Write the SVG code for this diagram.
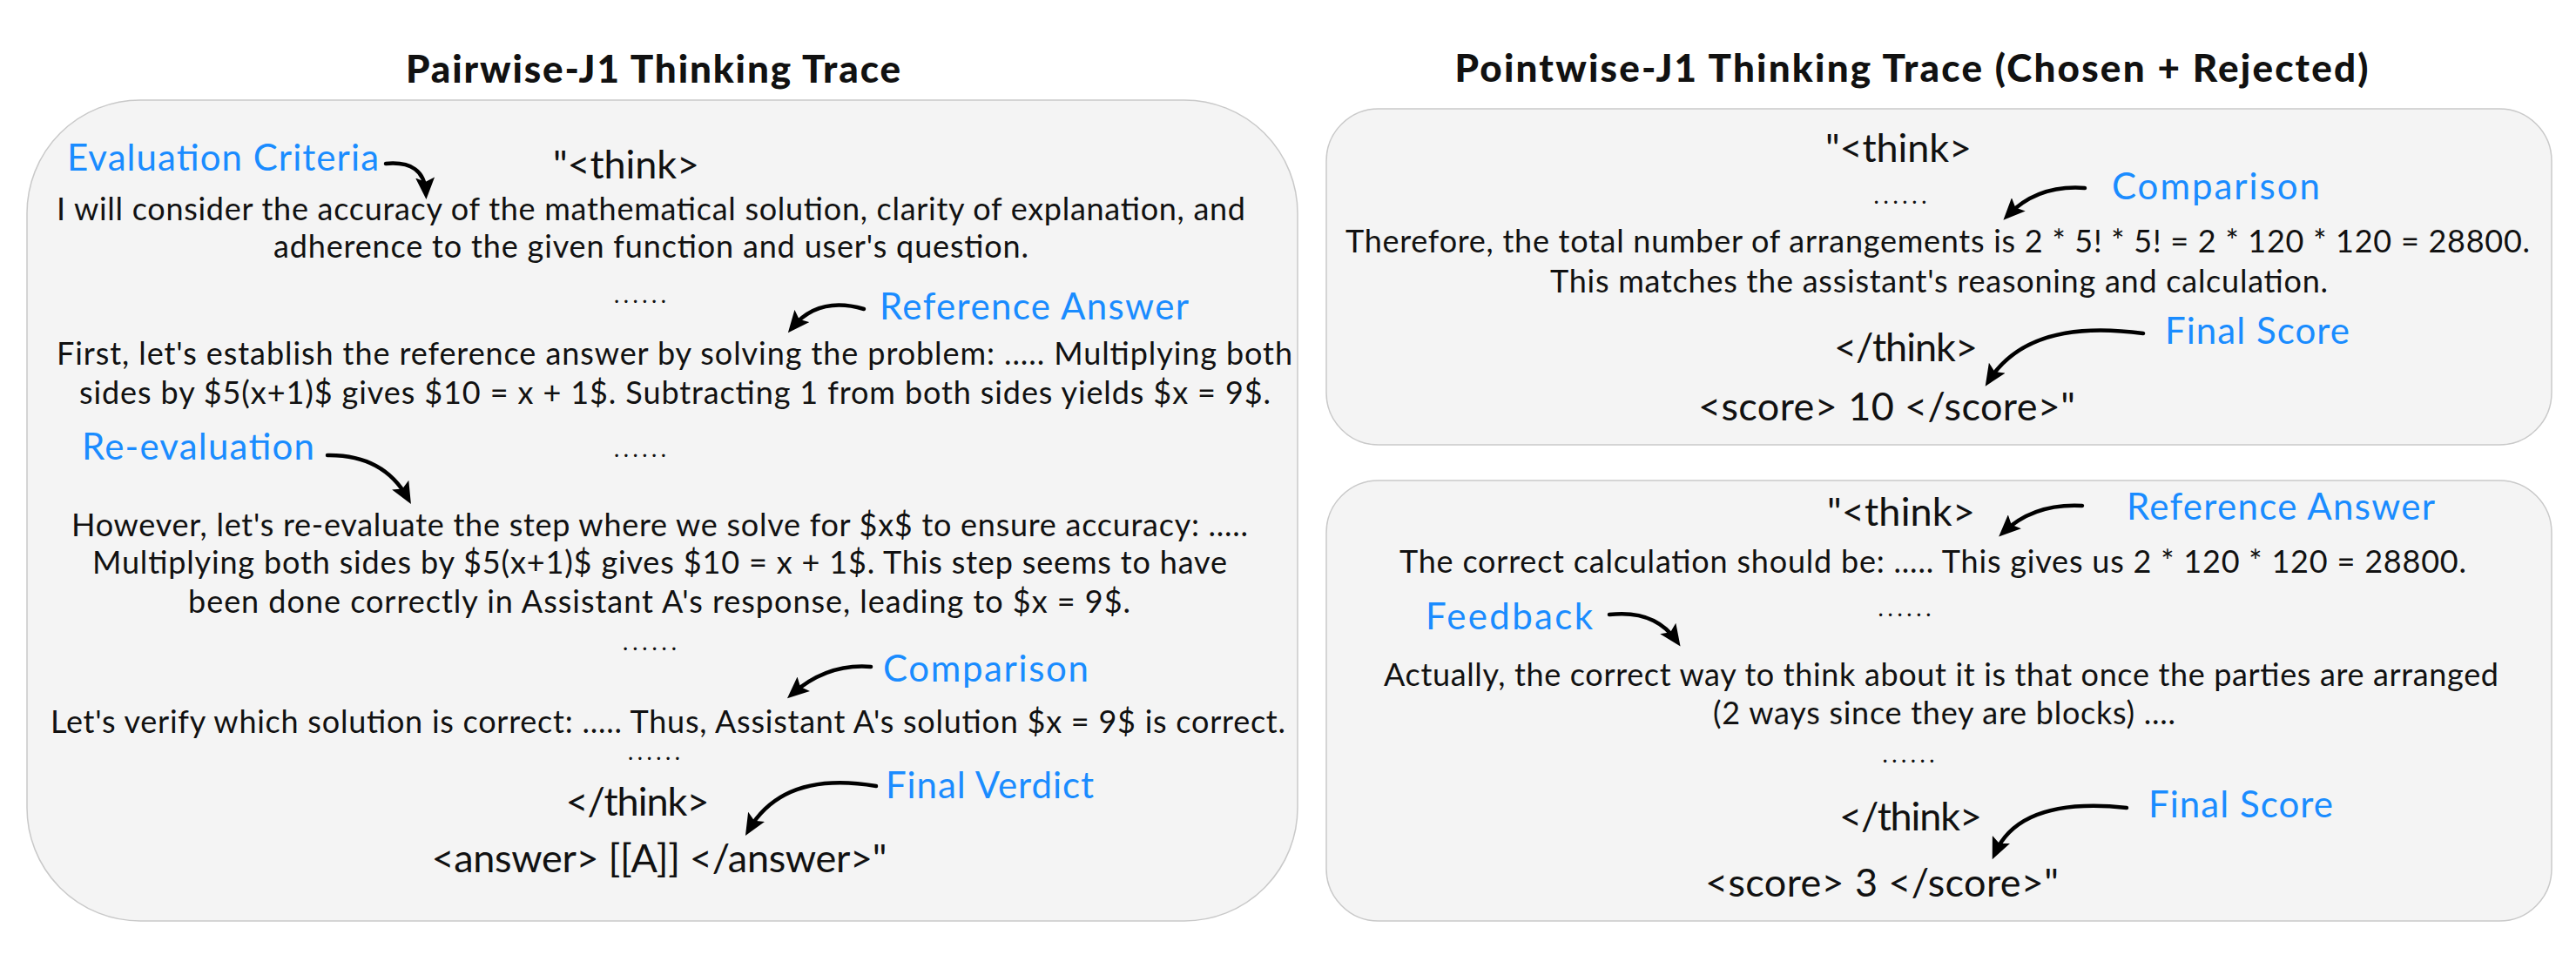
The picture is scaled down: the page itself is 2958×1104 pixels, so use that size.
<svg xmlns="http://www.w3.org/2000/svg" width="2958" height="1104" viewBox="0 0 2958 1104">
<style>
text{font-family:Lato,"Open Sans","Liberation Sans",sans-serif;fill:#111}
.title{font-size:44px;font-weight:900;text-anchor:middle}
.body{font-size:36px;text-anchor:middle}
.tag{font-size:45px;text-anchor:middle}
.lbl{font-size:42px;fill:#1a8cff}
.dots{font-size:22px;font-weight:700;text-anchor:middle}
.panel{fill:#f4f4f4;stroke:#c9c9c9;stroke-width:1.5}
.arr{fill:none;stroke:#000;stroke-width:4.5;stroke-linecap:round;marker-end:url(#ah)}
</style>
<defs>
<marker id="ah" markerUnits="userSpaceOnUse" markerWidth="26" markerHeight="22" viewBox="0 0 26 22" refX="17" refY="11" orient="auto">
<path d="M0,0 L25,11 L0,22 L5,11 z" fill="#000"/>
</marker>
</defs>
<rect width="2958" height="1104" fill="#fff"/>
<text class="title" x="750" y="95" textLength="568">Pairwise-J1 Thinking Trace</text>
<text class="title" x="2195" y="94" textLength="1049">Pointwise-J1 Thinking Trace (Chosen + Rejected)</text>

<g id="pairwise-panel">
<rect class="panel" x="31" y="115" width="1459" height="943" rx="130" ry="130"/>
<text class="lbl" x="77" y="196" textLength="358">Evaluation Criteria</text>
<text class="tag" x="719" y="205" textLength="168">"&lt;think&gt;</text>
<text class="body" x="747.5" y="253" textLength="1365">I will consider the accuracy of the mathematical solution, clarity of explanation, and</text>
<text class="body" x="747.5" y="296" textLength="867">adherence to the given function and user's question.</text>
<text class="dots" x="735" y="348" textLength="59">......</text>
<text class="lbl" x="1010" y="367" textLength="355">Reference Answer</text>
<text class="body" x="774.5" y="419" textLength="1419">First, let's establish the reference answer by solving the problem: ..... Multiplying both</text>
<text class="body" x="775" y="464" textLength="1368">sides by $5(x+1)$ gives $10 = x + 1$. Subtracting 1 from both sides yields $x = 9$.</text>
<text class="lbl" x="94" y="528" textLength="267">Re-evaluation</text>
<text class="dots" x="735" y="525" textLength="59">......</text>
<text class="body" x="757.5" y="616" textLength="1351">However, let's re-evaluate the step where we solve for $x$ to ensure accuracy: .....</text>
<text class="body" x="757.5" y="659" textLength="1303">Multiplying both sides by $5(x+1)$ gives $10 = x + 1$. This step seems to have</text>
<text class="body" x="757" y="704" textLength="1082">been done correctly in Assistant A's response, leading to $x = 9$.</text>
<text class="dots" x="746" y="747" textLength="61">......</text>
<text class="lbl" x="1014" y="783" textLength="236">Comparison</text>
<text class="body" x="767" y="842" textLength="1418">Let's verify which solution is correct: ..... Thus, Assistant A's solution $x = 9$ is correct.</text>
<text class="dots" x="751" y="873" textLength="59">......</text>
<text class="lbl" x="1017" y="917" textLength="239">Final Verdict</text>
<text class="tag" x="732" y="937" textLength="165">&lt;/think&gt;</text>
<text class="tag" x="757" y="1002" textLength="523">&lt;answer&gt; [[A]] &lt;/answer&gt;"</text>
</g>

<g id="pointwise-chosen-panel">
<rect class="panel" x="1523" y="125" width="1407" height="386" rx="60" ry="60"/>
<text class="tag" x="2180" y="186" textLength="168">"&lt;think&gt;</text>
<text class="dots" x="2182" y="234" textLength="60">......</text>
<text class="lbl" x="2425" y="229" textLength="239">Comparison</text>
<text class="body" x="2225" y="290" textLength="1360">Therefore, the total number of arrangements is 2 * 5! * 5! = 2 * 120 * 120 = 28800.</text>
<text class="body" x="2226.5" y="336" textLength="893">This matches the assistant's reasoning and calculation.</text>
<text class="lbl" x="2486" y="395" textLength="212">Final Score</text>
<text class="tag" x="2188.5" y="415" textLength="165">&lt;/think&gt;</text>
<text class="tag" x="2166.5" y="483" textLength="433">&lt;score&gt; 10 &lt;/score&gt;"</text>
</g>

<g id="pointwise-rejected-panel">
<rect class="panel" x="1523" y="552" width="1407" height="506" rx="60" ry="60"/>
<text class="tag" x="2183" y="604" textLength="170">"&lt;think&gt;</text>
<text class="lbl" x="2442" y="597" textLength="354">Reference Answer</text>
<text class="body" x="2219.5" y="658" textLength="1225">The correct calculation should be: ..... This gives us 2 * 120 * 120 = 28800.</text>
<text class="lbl" x="1637" y="723" textLength="192">Feedback</text>
<text class="dots" x="2187" y="708" textLength="60">......</text>
<text class="body" x="2229" y="788" textLength="1280">Actually, the correct way to think about it is that once the parties are arranged</text>
<text class="body" x="2232.5" y="832" textLength="531">(2 ways since they are blocks) ....</text>
<text class="dots" x="2191.5" y="876" textLength="59">......</text>
<text class="lbl" x="2467" y="939" textLength="212">Final Score</text>
<text class="tag" x="2194" y="954" textLength="164">&lt;/think&gt;</text>
<text class="tag" x="2161" y="1030" textLength="406">&lt;score&gt; 3 &lt;/score&gt;"</text>
</g>

<g id="connectors">
<path class="arr" d="M443,188 Q487,184 489,221"/>
<path class="arr" d="M992,355 Q940,340 910,376"/>
<path class="arr" d="M376,523 Q440,522 468,572"/>
<path class="arr" d="M1000,766 Q950,762 910,797"/>
<path class="arr" d="M1006,903 Q900,885 860,953"/>
<path class="arr" d="M2394,216 Q2340,212 2306,247"/>
<path class="arr" d="M2461,383 Q2330,365 2284,437"/>
<path class="arr" d="M2391,581 Q2336,578 2301,611"/>
<path class="arr" d="M1848,706 Q1900,700 1925,736"/>
<path class="arr" d="M2442,928 Q2320,915 2291,980"/>
</g>
</svg>
